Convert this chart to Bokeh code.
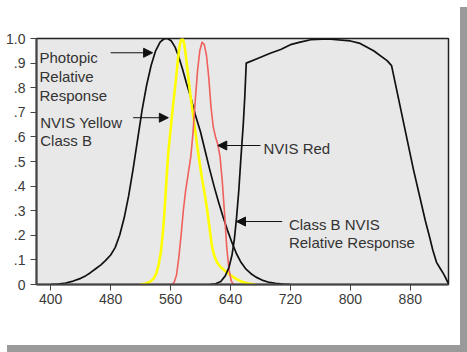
from bokeh.plotting import figure
from bokeh.models import Range1d, FixedTicker, CustomJSTickFormatter, Label, Arrow, NormalHead
from bokeh.embed import file_html
from bokeh.resources import INLINE

# ---- data ----
photopic_nm = [400, 410, 420, 430, 440, 447, 453, 460, 467, 473, 480, 486, 492, 498, 504, 510, 516, 522, 528, 534, 540, 546, 551, 556, 561, 566, 571, 576, 581, 587, 593, 600, 606, 612, 618, 624, 630, 636, 642, 648, 654, 660, 667, 674, 682, 690, 700, 710, 720]
photopic_v = [0.0, 0.002, 0.006, 0.014, 0.025, 0.036, 0.048, 0.064, 0.08, 0.097, 0.12, 0.15, 0.2, 0.27, 0.36, 0.47, 0.59, 0.71, 0.81, 0.89, 0.95, 0.985, 0.998, 1.0, 0.99, 0.965, 0.925, 0.875, 0.82, 0.76, 0.69, 0.62, 0.545, 0.47, 0.4, 0.335, 0.275, 0.22, 0.17, 0.125, 0.09, 0.065, 0.045, 0.03, 0.018, 0.01, 0.005, 0.002, 0.0]

yellow_nm = [520, 526, 532, 537, 541, 544, 547, 549, 551, 553, 555, 557, 560, 563, 567, 570, 572, 574, 576, 578, 580, 583, 586, 590, 594, 598, 602, 606, 609, 612, 615, 618, 622, 627, 633, 640, 648, 656, 664, 673]
yellow_v = [0.0, 0.003, 0.01, 0.022, 0.045, 0.08, 0.13, 0.19, 0.26, 0.35, 0.45, 0.54, 0.63, 0.72, 0.83, 0.92, 0.97, 0.995, 1.0, 0.98, 0.94, 0.86, 0.78, 0.69, 0.6, 0.51, 0.43, 0.36, 0.3, 0.23, 0.16, 0.12, 0.09, 0.07, 0.055, 0.038, 0.022, 0.01, 0.004, 0.0]

red_nm = [562, 565, 568, 571, 574, 577, 580, 584, 587, 590, 593, 596, 599, 602, 605, 608, 611, 614, 617, 620, 623, 626, 629, 632, 635, 638, 641, 644]
red_v = [0.0, 0.01, 0.04, 0.11, 0.2, 0.3, 0.38, 0.46, 0.52, 0.62, 0.75, 0.87, 0.95, 0.985, 0.975, 0.93, 0.84, 0.72, 0.64, 0.6, 0.57, 0.52, 0.42, 0.29, 0.15, 0.06, 0.015, 0.0]

classb_nm = [613, 620, 627, 633, 638, 642, 645, 648, 651, 654, 657, 659, 661, 677, 693, 707, 720, 733, 747, 770, 800, 813, 831, 849, 855, 884, 900, 906, 910, 915, 920, 925, 931]
classb_v = [0.0, 0.003, 0.012, 0.035, 0.07, 0.12, 0.18, 0.27, 0.38, 0.52, 0.65, 0.76, 0.9, 0.92, 0.94, 0.955, 0.975, 0.985, 0.995, 0.998, 0.99, 0.98, 0.95, 0.91, 0.89, 0.47, 0.26, 0.19, 0.14, 0.09, 0.065, 0.04, 0.003]

x_ticks = [400, 480, 560, 640, 720, 800, 880]
y_ticks = [0, 0.1, 0.2, 0.3, 0.4, 0.5, 0.6, 0.7, 0.8, 0.9, 1.0]

FONT = "Liberation Sans"
TXT = "#333333"

p = figure(width=460, height=345, output_backend="svg", toolbar_location=None,
           x_range=Range1d(381, 931), y_range=Range1d(0, 1.0),
           min_border_left=36, min_border_right=12, min_border_top=38, min_border_bottom=61)
p.styles = {"box-shadow": "7px 7px 0px #9a9a9a"}
p.background_fill_color = "#e8e8e8"
p.border_fill_color = "white"
p.outline_line_color = "#222222"
p.outline_line_width = 1.5
p.grid.visible = False

for ax in (p.xaxis[0], p.yaxis[0]):
    ax.axis_line_color = "#444444"
    ax.axis_line_width = 2
    ax.major_tick_line_color = "#444444"
    ax.major_tick_out = 6
    ax.major_tick_in = 0
    ax.minor_tick_out = 0
    ax.minor_tick_in = 0
    ax.major_label_text_font = FONT
    ax.major_label_text_font_size = "14px"
    ax.major_label_text_color = "#3a3a3a"

p.xaxis.ticker = FixedTicker(ticks=x_ticks)
p.xaxis.major_label_standoff = 3
p.yaxis.ticker = FixedTicker(ticks=y_ticks)
p.yaxis.major_label_standoff = 5
p.yaxis.formatter = CustomJSTickFormatter(code="""
if (Math.abs(tick) < 1e-9) return '0';
if (tick > 0.999) return '1.0';
return tick.toFixed(1).replace(/^0/, '');
""")

p.line(photopic_nm, photopic_v, line_color="#111111", line_width=1.7, line_join="round")
p.line(yellow_nm, yellow_v, line_color="#ffff00", line_width=2.6, line_join="round")
p.line(red_nm, red_v, line_color="#f0605c", line_width=1.6, line_join="round")
p.line(classb_nm, classb_v, line_color="#111111", line_width=1.7, line_join="round")

def lab(x, y, t):
    p.add_layout(Label(x=x, y=y, text=t, text_font=FONT, text_font_size="15px",
                       text_color=TXT, text_baseline="alphabetic", text_align="left"))

lab(385, 0.921, "Photopic")
lab(385, 0.846, "Relative")
lab(385, 0.770, "Response")
lab(386, 0.660, "NVIS Yellow")
lab(386, 0.585, "Class B")
lab(684, 0.551, "NVIS Red")
lab(718, 0.242, "Class B NVIS")
lab(718, 0.169, "Relative Response")

def arr(x0, x1, y):
    p.add_layout(Arrow(end=NormalHead(size=9, fill_color="#111111", line_color="#111111"),
                       x_start=x0, y_start=y, x_end=x1, y_end=y,
                       line_color="#111111", line_width=1))

arr(480, 536, 0.942)
arr(510, 557, 0.678)
arr(680, 623, 0.565)
arr(709, 648, 0.256)

open("out.html", "w").write(file_html(p, INLINE))
